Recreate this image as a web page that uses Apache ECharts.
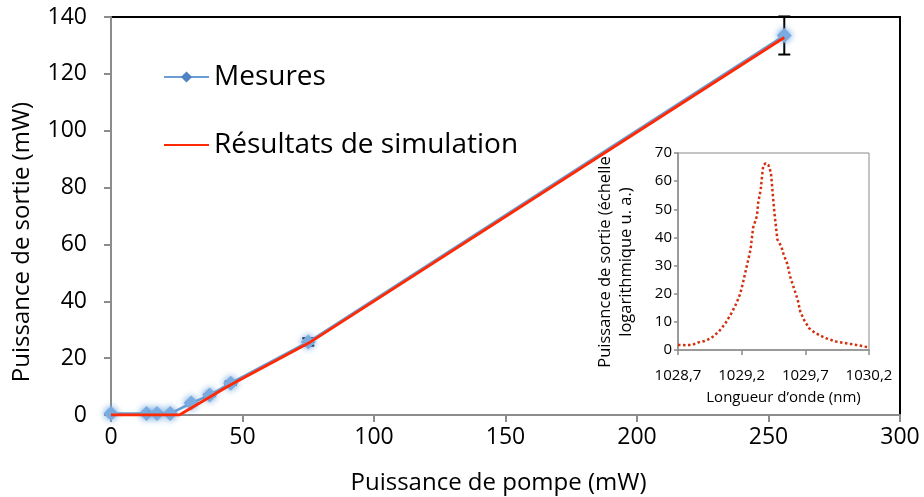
<!DOCTYPE html>
<html>
<head>
<meta charset="utf-8">
<script src="https://cdn.jsdelivr.net/npm/echarts@6/dist/echarts.min.js"></script>
<style>html,body{margin:0;padding:0;background:#fff}#c{width:924px;height:497px}</style>
</head>
<body>
<div id="c"></div>
<script>
// Main chart data
const mesX = [0, 13.5, 17.5, 22.5, 30.5, 37.5, 45.5, 75, 256];
const mesY = [0.5, 0.5, 0.5, 0.5, 4.2, 7, 11.2, 25.7, 133.5];
const mesErr = [0.03, 0.03, 0.03, 0.03, 0.2, 0.35, 0.56, 1.3, 6.7];
const simX = [0, 26, 45, 75, 256];
const simY = [0, 0, 10.4, 25.2, 132.8];
const mainXTicks = [0, 50, 100, 150, 200, 250, 300];
const mainYTicks = [0, 20, 40, 60, 80, 100, 120, 140];
// Inset spectrum data
const specX = [1028.70, 1028.76, 1028.81, 1028.86, 1028.91, 1028.96, 1029.02, 1029.07, 1029.12, 1029.16, 1029.19, 1029.21, 1029.24, 1029.27, 1029.29, 1029.32, 1029.33, 1029.35, 1029.36, 1029.37, 1029.39, 1029.41, 1029.43, 1029.44, 1029.45, 1029.46, 1029.47, 1029.48, 1029.51, 1029.53, 1029.56, 1029.58, 1029.61, 1029.64, 1029.66, 1029.69, 1029.73, 1029.78, 1029.86, 1029.94, 1030.02, 1030.10, 1030.17, 1030.20];
const specY = [1.8, 1.7, 1.8, 2.7, 3.2, 4.2, 6.5, 9.3, 13.1, 16.7, 20.2, 23.8, 29.8, 35.7, 43.5, 47.6, 52.4, 57.1, 61.9, 65.7, 66.4, 65.7, 63, 57.7, 52.4, 47.6, 43.5, 39.3, 36.9, 33.9, 30.4, 26.2, 22, 17.9, 13.7, 10.7, 7.7, 6, 4.2, 3, 2.4, 1.8, 1.2, 1.0];
const insetXTicks = [1028.7, 1029.2, 1029.7, 1030.2];
const insetYTicks = [0, 10, 20, 30, 40, 50, 60, 70];

const FONT = '"Open Sans", "Liberation Sans", sans-serif';
const chart = echarts.init(document.getElementById('c'), null, {renderer: 'canvas'});

const mesData = mesX.map((x, i) => [x, mesY[i]]);
const errData = mesX.map((x, i) => [x, mesY[i] - mesErr[i], mesY[i] + mesErr[i]]);
const simData = simX.map((x, i) => [x, simY[i]]);
const specData = specX.map((x, i) => [x, specY[i]]);

chart.setOption({
  animation: false,
  backgroundColor: '#fff',
  textStyle: {fontFamily: FONT},
  grid: [
    {left: 111, right: 24, top: 17, bottom: 82, containLabel: false, outerBoundsMode: 'none', show: true, borderColor: '#000', borderWidth: 2, backgroundColor: 'transparent'},
    {left: 678, right: 55, top: 153, bottom: 147, containLabel: false, outerBoundsMode: 'none', show: true, borderColor: '#8a8a8a', borderWidth: 1, backgroundColor: 'transparent'}
  ],
  xAxis: [
    {
      gridIndex: 0, type: 'value', min: mainXTicks[0], max: mainXTicks[mainXTicks.length - 1], interval: 50,
      splitLine: {show: false},
      axisLine: {lineStyle: {color: '#8c8c8c', width: 2}},
      axisTick: {show: true, length: 7, lineStyle: {color: '#8c8c8c', width: 2}},
      axisLabel: {fontSize: 23, color: '#000', margin: 11, fontFamily: FONT},
      name: 'Puissance de pompe (mW)', nameLocation: 'middle', nameGap: 56,
      nameTextStyle: {fontSize: 24, color: '#000', fontFamily: FONT, padding: [0, 14, 0, 0]}
    },
    {
      gridIndex: 1, type: 'value', min: 1028.7, max: 1030.2,
      splitLine: {show: false},
      axisLine: {lineStyle: {color: '#8c8c8c', width: 1.5}},
      axisTick: {show: true, length: 5, customValues: insetXTicks, lineStyle: {color: '#8c8c8c', width: 1.5}},
      axisLabel: {fontSize: 15, color: '#000', margin: 18, fontFamily: FONT, customValues: insetXTicks,
        formatter: v => (Math.round(v * 10) / 10).toFixed(1).replace('.', ',')},
      name: 'Longueur d\u2019onde (nm)', nameLocation: 'middle', nameGap: 40,
      nameTextStyle: {fontSize: 15, color: '#000', fontFamily: FONT, padding: [0, 0, 0, 20]}
    }
  ],
  yAxis: [
    {
      gridIndex: 0, type: 'value', min: mainYTicks[0], max: mainYTicks[mainYTicks.length - 1], interval: 20,
      splitLine: {show: false},
      axisLine: {lineStyle: {color: '#8c8c8c', width: 2}},
      axisTick: {show: true, length: 7, lineStyle: {color: '#8c8c8c', width: 2}},
      axisLabel: {fontSize: 23, color: '#000', margin: 24, fontFamily: FONT}
    },
    {
      gridIndex: 1, type: 'value', min: insetYTicks[0], max: insetYTicks[insetYTicks.length - 1], interval: 10,
      splitLine: {show: false},
      axisLine: {lineStyle: {color: '#8c8c8c', width: 1.5}},
      axisTick: {show: true, length: 4, lineStyle: {color: '#8c8c8c', width: 1.5}},
      axisLabel: {fontSize: 15, color: '#000', margin: 6, fontFamily: FONT}
    }
  ],
  legend: {
    left: 158, top: 58, orient: 'vertical', itemGap: 40,
    itemWidth: 45, itemHeight: 14,
    textStyle: {fontSize: 28, color: '#000', fontFamily: FONT},
    data: [
      {name: 'Mesures', itemStyle: {color: '#4f83c2', shadowBlur: 0}},
      {name: 'Résultats de simulation', itemStyle: {opacity: 0}}
    ]
  },
  graphic: [
    {type: 'text', x: 22, y: 242, rotation: Math.PI / 2,
      style: {text: 'Puissance de sortie (mW)', font: '24px ' + FONT, fill: '#000', textAlign: 'center', textVerticalAlign: 'middle', verticalAlign: 'middle'}},
    {type: 'text', x: 616, y: 262, rotation: Math.PI / 2,
      style: {text: 'Puissance de sortie (échelle\nlogarithmique u. a.)', font: '16.5px ' + FONT, lineHeight: 21, fill: '#000', textAlign: 'center', textVerticalAlign: 'middle', verticalAlign: 'middle'}}
  ],
  series: [
    {
      name: 'Mesures', type: 'line', xAxisIndex: 0, yAxisIndex: 0, data: mesData,
      symbol: 'diamond', symbolSize: 15, showSymbol: true,
      lineStyle: {color: '#6b9dd5', width: 2.5},
      itemStyle: {color: '#7aabe0', shadowBlur: 7, shadowColor: 'rgba(90,150,215,1)'},
      z: 2
    },
    {
      name: 'errbar', type: 'custom', xAxisIndex: 0, yAxisIndex: 0, data: errData,
      renderItem: function (params, api) {
        const x = api.value(0);
        const lo = api.coord([x, api.value(1)]);
        const hi = api.coord([x, api.value(2)]);
        const w = 6;
        const st = {stroke: '#000', lineWidth: 2};
        return {type: 'group', children: [
          {type: 'line', shape: {x1: lo[0], y1: lo[1], x2: hi[0], y2: hi[1]}, style: st},
          {type: 'line', shape: {x1: lo[0] - w, y1: lo[1], x2: lo[0] + w, y2: lo[1]}, style: st},
          {type: 'line', shape: {x1: hi[0] - w, y1: hi[1], x2: hi[0] + w, y2: hi[1]}, style: st}
        ]};
      },
      z: 1, silent: true
    },
    {
      name: 'Résultats de simulation', type: 'line', xAxisIndex: 0, yAxisIndex: 0, data: simData,
      symbol: 'none', showSymbol: false,
      lineStyle: {color: '#ff2a05', width: 2.8},
      itemStyle: {color: '#ff2a05'},
      z: 3
    },
    {
      name: 'spectre', type: 'line', xAxisIndex: 1, yAxisIndex: 1, data: specData,
      symbol: 'none', showSymbol: false,
      lineStyle: {color: '#d2300f', width: 2.5, type: 'dotted'},
      z: 4
    }
  ]
});
</script>
</body>
</html>
